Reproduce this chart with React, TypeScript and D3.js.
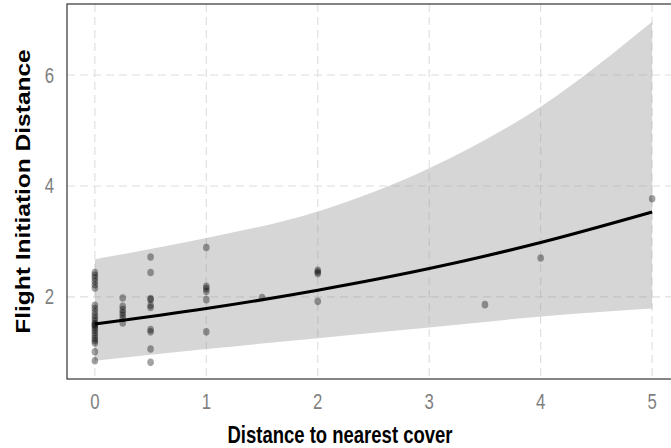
import * as d3 from "d3";

// observed points: distance to nearest cover vs flight initiation distance
const coverX = [
  0, 0, 0, 0, 0, 0, 0, 0, 0, 0, 0, 0, 0, 0, 0, 0, 0, 0, 0, 0, 0, 0, 0, 0,
  0.25, 0.25, 0.25, 0.25, 0.25, 0.25, 0.25,
  0.5, 0.5, 0.5, 0.5, 0.5, 0.5, 0.5, 0.5, 0.5, 0.5,
  1, 1, 1, 1, 1, 1,
  1.5,
  2, 2, 2, 2,
  3.5, 4, 5,
];
const fidY = [
  2.44, 2.39, 2.34, 2.28, 2.22, 2.16,
  1.85, 1.79, 1.73, 1.67, 1.62, 1.57, 1.52, 1.48, 1.44, 1.4, 1.35, 1.3, 1.25, 1.21, 1.17, 1.01, 0.85, 1.5,
  1.98, 1.83, 1.77, 1.72, 1.67, 1.61, 1.53,
  2.72, 2.44, 1.97, 1.95, 1.85, 1.81, 1.41, 1.37, 1.06, 0.82,
  2.89, 2.19, 2.15, 2.1, 1.95, 1.37,
  1.99,
  2.48, 2.45, 2.42, 1.92,
  1.86, 2.7, 3.77,
];

// fitted curve and confidence band
const fitX = [0, 1, 2, 3, 4, 5];
const fitY = [1.51, 1.79, 2.12, 2.51, 2.98, 3.53];
const lowerY = [0.85, 1.06, 1.256, 1.447, 1.645, 1.79];
const upperY = [2.68, 3.06, 3.54, 4.32, 5.43, 6.96];

const xTicks = [0, 1, 2, 3, 4, 5];
const yTicks = [2, 4, 6];

const W = 671;
const H = 448;
const panel = { left: 67, right: 680, top: 4, bottom: 379 };
// the picture is a little taller than wide in its glyphs
const SY = 1.27;

export default function App() {
  const x = d3.scaleLinear().domain([-0.25, 5.25]).range([panel.left, panel.right]);
  const y = d3.scaleLinear().domain([0.52, 7.28]).range([panel.bottom, panel.top]);

  const band = d3
    .area<number>()
    .x((d) => x(fitX[d]))
    .y0((d) => y(lowerY[d]))
    .y1((d) => y(upperY[d]))
    .curve(d3.curveMonotoneX);

  const line = d3
    .line<number>()
    .x((d) => x(fitX[d]))
    .y((d) => y(fitY[d]))
    .curve(d3.curveMonotoneX);

  const idx = fitX.map((_, i) => i);
  const font = "'Liberation Sans', Arial, sans-serif";

  return (
    <svg
      width={W}
      height={H}
      style={{ position: "absolute", left: 0, top: 0, background: "#fff" }}
    >
      {/* grid */}
      <g stroke="#dedede" strokeWidth={1.1} strokeDasharray="8,5">
        {xTicks.map((t) => (
          <line key={"gx" + t} x1={x(t)} x2={x(t)} y1={panel.top} y2={panel.bottom} />
        ))}
        {yTicks.map((t) => (
          <line key={"gy" + t} x1={panel.left} x2={panel.right} y1={y(t)} y2={y(t)} />
        ))}
      </g>

      {/* confidence band */}
      <path d={band(idx) || ""} fill="#999999" fillOpacity={0.4} />

      {/* points */}
      <g fill="#000" fillOpacity={0.36}>
        {coverX.map((cx, i) => (
          <ellipse key={i} cx={x(cx)} cy={y(fidY[i])} rx={3.3} ry={3.8} />
        ))}
      </g>

      {/* fit */}
      <path d={line(idx) || ""} fill="none" stroke="#000" strokeWidth={3.1} />

      {/* panel border */}
      <rect
        x={panel.left}
        y={panel.top}
        width={panel.right - panel.left}
        height={panel.bottom - panel.top}
        fill="none"
        stroke="#333"
        strokeWidth={1.2}
      />

      {/* tick labels */}
      <g fontFamily={font} fontSize={16.8} fill="#7f7f7f">
        {xTicks.map((t) => (
          <text
            key={"tx" + t}
            transform={`translate(${x(t)},409) scale(1,${SY})`}
            textAnchor="middle"
          >
            {t}
          </text>
        ))}
        {yTicks.map((t) => (
          <text
            key={"ty" + t}
            transform={`translate(54,${y(t) + 7.5}) scale(1,${SY})`}
            textAnchor="end"
          >
            {t}
          </text>
        ))}
      </g>

      {/* axis titles */}
      <text
        transform={`translate(340,443) scale(1,${SY})`}
        textAnchor="middle"
        fontFamily={font}
        fontWeight="bold"
        fontSize={18.5}
        fill="#000"
      >
        Distance to nearest cover
      </text>
      <text
        transform={`translate(29.5,${(panel.top + panel.bottom) / 2}) scale(1,${SY}) rotate(-90)`}
        textAnchor="middle"
        fontFamily={font}
        fontWeight="bold"
        fontSize={19.3}
        fill="#000"
      >
        Flight Initiation Distance
      </text>
    </svg>
  );
}
